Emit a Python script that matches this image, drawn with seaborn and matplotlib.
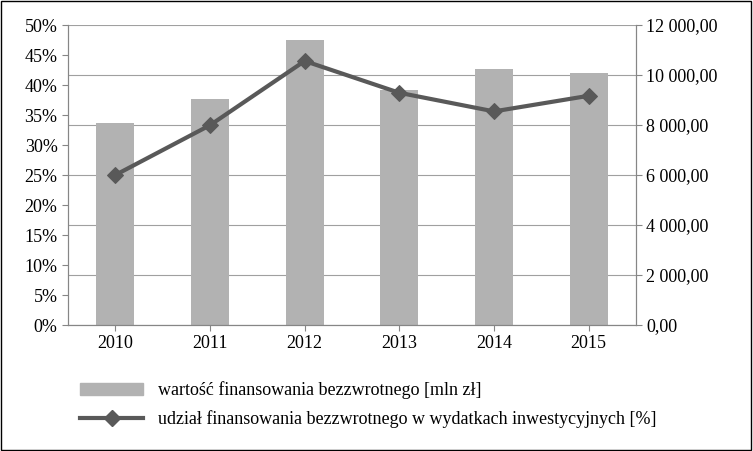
import matplotlib
matplotlib.use("Agg")
import matplotlib.pyplot as plt
import seaborn as sns
import pandas as pd
from matplotlib.patches import Patch, Rectangle
from matplotlib.lines import Line2D
from matplotlib.ticker import FuncFormatter

years = ["2010", "2011", "2012", "2013", "2014", "2015"]
funding_mln = [8080, 9040, 11400, 9400, 10250, 10080]
share_pct = [25.0, 33.3, 44.0, 38.7, 35.6, 38.2]

plt.rcParams["font.family"] = "Liberation Serif"
plt.rcParams["font.size"] = 13

df = pd.DataFrame({"year": years, "funding": funding_mln, "share": share_pct})

fig = plt.figure(figsize=(7.53, 4.51), dpi=100)
ax = fig.add_axes([68 / 753, 1 - 325 / 451, (636 - 68) / 753, 300 / 451])
ax2 = ax.twinx()

sns.barplot(data=df, x="year", y="funding", color="#b2b2b2", width=0.4,
            saturation=1, ax=ax2)
sns.lineplot(x=range(len(years)), y=df["share"], color="#595959", linewidth=3,
             marker="D", markersize=8, markeredgecolor="#595959", ax=ax)

ax.set_zorder(2)
ax.patch.set_visible(False)
ax.set_xlim(-0.5, 5.5)
ax.set_ylim(0, 50)
ax.set_yticks(range(0, 51, 5))
ax.yaxis.set_major_formatter(FuncFormatter(lambda v, p: f"{int(v)}%"))
ax.set_xticks(range(len(years)))
ax.set_xticklabels(years)
ax2.set_ylim(0, 12000)
ax2.set_yticks(range(0, 12001, 2000))
ax2.yaxis.set_major_formatter(
    FuncFormatter(lambda v, p: f"{int(v):,}".replace(",", "\u00a0") + ",00"))
ax2.yaxis.grid(True, color="#a0a0a0", linewidth=0.8)
ax2.set_axisbelow(True)
for a in (ax, ax2):
    a.set_xlabel("")
    a.set_ylabel("")
    for s in a.spines.values():
        s.set_color("#868686")
    a.tick_params(colors="black", length=4, color="#868686")
ax.spines["top"].set_visible(False)
ax2.spines["top"].set_visible(False)

handles = [Patch(color="#b2b2b2"),
           Line2D([], [], color="#595959", linewidth=3, marker="D", markersize=8)]
labels = ["wartość finansowania bezzwrotnego [mln zł]",
          "udział finansowania bezzwrotnego w wydatkach inwestycyjnych [%]"]
fig.legend(handles, labels, loc="upper left", bbox_to_anchor=(0.085, 0.19),
           frameon=False, fontsize=13, handlelength=3.5, labelspacing=0.6)

fig.patches.append(Rectangle((0.001, 0.002), 0.997, 0.995, transform=fig.transFigure,
                             fill=False, edgecolor="black", linewidth=1))
fig.savefig("out.png", dpi=100)
